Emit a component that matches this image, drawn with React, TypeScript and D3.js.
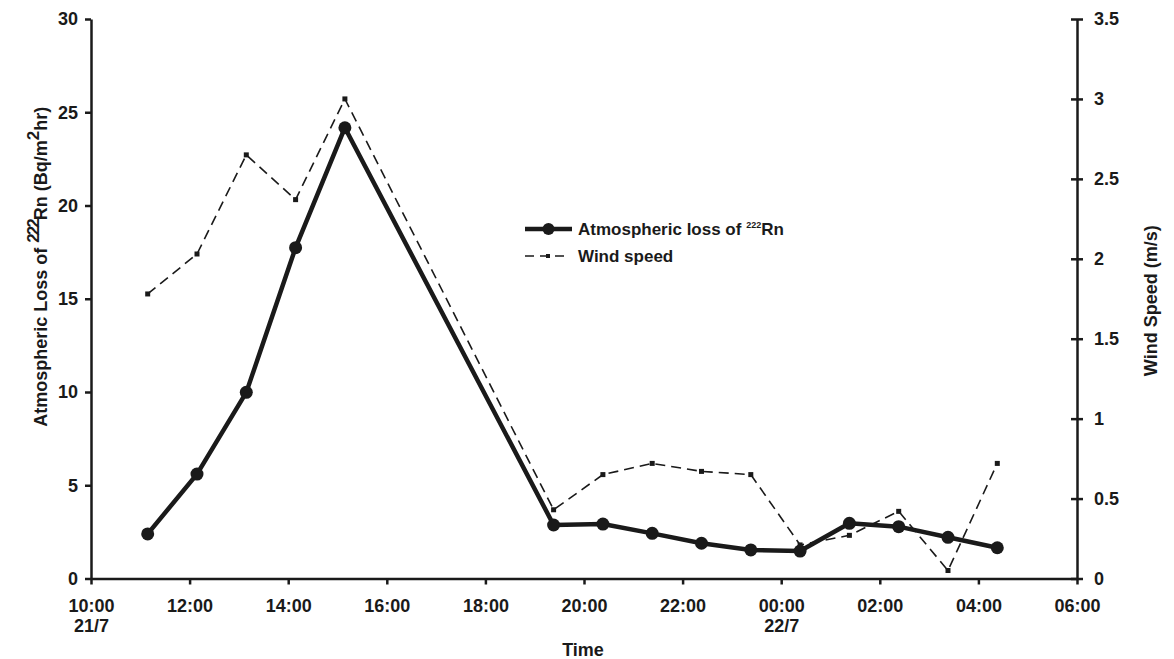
import * as React from 'react';
import * as d3 from 'd3';

const WIDTH = 1174;
const HEIGHT = 659;
const MARGIN = { top: 19, right: 97, bottom: 80.5, left: 91 };

// sampling times (local), 21/7 -> 22/7
const times = [
  '2000-07-21T11:09', '2000-07-21T12:09', '2000-07-21T13:09', '2000-07-21T14:09',
  '2000-07-21T15:09', '2000-07-21T19:23', '2000-07-21T20:23', '2000-07-21T21:23',
  '2000-07-21T22:23', '2000-07-21T23:23', '2000-07-22T00:23', '2000-07-22T01:23',
  '2000-07-22T02:23', '2000-07-22T03:23', '2000-07-22T04:23',
];
// atmospheric loss of 222Rn (Bq/m2 hr)
const radon = [2.39, 5.6, 9.98, 17.74, 24.17, 2.87, 2.92, 2.42, 1.89, 1.53, 1.47, 2.96, 2.78, 2.21, 1.65];
// wind speed (m/s)
const wind = [1.78, 2.03, 2.65, 2.37, 3.0, 0.43, 0.65, 0.72, 0.67, 0.65, 0.21, 0.27, 0.42, 0.05, 0.72];

const xStart = '2000-07-21T10:00';
const xEnd = '2000-07-22T06:00';
const leftTicks = [0, 5, 10, 15, 20, 25, 30];
const rightTicks = [0, 0.5, 1, 1.5, 2, 2.5, 3, 3.5];
const dateLabels = { '10:00': '21/7', '00:00': '22/7' };

const FONT = 'Arial, "Liberation Sans", Helvetica, sans-serif';
const INK = '#1a1a1a';

export default function App() {
  const ref = React.useRef(null);

  React.useEffect(() => {
    const svg = d3.select(ref.current);
    svg.selectAll('*').remove();

    const w = WIDTH - MARGIN.left - MARGIN.right;
    const h = HEIGHT - MARGIN.top - MARGIN.bottom;

    const x = d3.scaleTime().domain([new Date(xStart), new Date(xEnd)]).range([0, w]);
    const yL = d3.scaleLinear().domain([0, 30]).range([h, 0]);
    const yR = d3.scaleLinear().domain([0, 3.5]).range([h, 0]);

    const data = times.map((t, i) => ({ t: new Date(t), rn: radon[i], ws: wind[i] }));

    const g = svg.append('g').attr('transform', `translate(${MARGIN.left},${MARGIN.top})`);

    // x axis
    const fmt = d3.timeFormat('%H:%M');
    const xAxis = g
      .append('g')
      .attr('transform', `translate(0,${h})`)
      .call(
        d3.axisBottom(x)
          .ticks(d3.timeHour.every(2))
          .tickSize(6)
          .tickSizeOuter(0)
          .tickFormat(d => fmt(d)),
      );
    xAxis.select('.domain').attr('stroke', INK).attr('stroke-width', 2.5);
    xAxis.selectAll('.tick line').attr('stroke', INK).attr('stroke-width', 2.5);
    xAxis
      .selectAll('.tick text')
      .attr('font-family', FONT)
      .attr('font-weight', 'bold')
      .attr('font-size', 18)
      .attr('fill', INK)
      .attr('y', 0)
      .attr('dy', 0)
      .each(function (d) {
        const s = fmt(d);
        const t = d3.select(this);
        t.text(null);
        t.append('tspan').attr('x', 0).attr('y', 33).text(s);
        if (dateLabels[s]) t.append('tspan').attr('x', 0).attr('y', 53).text(dateLabels[s]);
      });

    // left axis
    const yAxisL = g.append('g').call(d3.axisLeft(yL).tickValues(leftTicks).tickSize(6).tickSizeOuter(0).tickPadding(7));
    yAxisL.select('.domain').attr('stroke', INK).attr('stroke-width', 2.5);
    yAxisL.selectAll('.tick line').attr('stroke', INK).attr('stroke-width', 2.5);
    yAxisL
      .selectAll('.tick text')
      .attr('font-family', FONT)
      .attr('font-weight', 'bold')
      .attr('font-size', 18)
      .attr('fill', INK);

    // right axis, ticks crossing the line
    const yAxisR = g
      .append('g')
      .attr('transform', `translate(${w},0)`)
      .call(d3.axisRight(yR).tickValues(rightTicks).tickSize(6).tickSizeOuter(0).tickPadding(11).tickFormat(d3.format('~g')));
    yAxisR.select('.domain').attr('stroke', INK).attr('stroke-width', 2.5);
    yAxisR.selectAll('.tick line').attr('stroke', INK).attr('stroke-width', 2.5).attr('x1', -6);
    yAxisR
      .selectAll('.tick text')
      .attr('font-family', FONT)
      .attr('font-weight', 'bold')
      .attr('font-size', 18)
      .attr('fill', INK);

    // wind speed (dashed)
    const windLine = d3.line().x(d => x(d.t)).y(d => yR(d.ws));
    g.append('path')
      .datum(data)
      .attr('fill', 'none')
      .attr('stroke', INK)
      .attr('stroke-width', 1.6)
      .attr('stroke-dasharray', '10,6')
      .attr('d', windLine);
    g.selectAll('.wsPt')
      .data(data)
      .enter()
      .append('rect')
      .attr('x', d => x(d.t) - 2.5)
      .attr('y', d => yR(d.ws) - 2.5)
      .attr('width', 5)
      .attr('height', 5)
      .attr('fill', INK);

    // radon loss (solid, thick)
    const rnLine = d3.line().x(d => x(d.t)).y(d => yL(d.rn));
    g.append('path')
      .datum(data)
      .attr('fill', 'none')
      .attr('stroke', INK)
      .attr('stroke-width', 4.5)
      .attr('stroke-linejoin', 'round')
      .attr('d', rnLine);
    g.selectAll('.rnPt')
      .data(data)
      .enter()
      .append('circle')
      .attr('cx', d => x(d.t))
      .attr('cy', d => yL(d.rn))
      .attr('r', 6.5)
      .attr('fill', INK);

    // axis titles
    const lt = svg
      .append('text')
      .attr('transform', `translate(47,${MARGIN.top + h / 2 - 32}) rotate(-90)`)
      .attr('text-anchor', 'middle')
      .attr('font-family', FONT)
      .attr('font-weight', 'bold')
      .attr('font-size', 18)
      .attr('fill', INK);
    lt.append('tspan').text('Atmospheric Loss of ');
    lt.append('tspan').attr('font-size', 17).attr('dy', -8).attr('letter-spacing', -2).text('222');
    lt.append('tspan').attr('dy', 8).text('Rn (Bq/m');
    lt.append('tspan').attr('font-size', 17).attr('dy', -8).text('2');
    lt.append('tspan').attr('dy', 8).text('hr)');

    svg
      .append('text')
      .attr('transform', `translate(1157,${MARGIN.top + h / 2 + 2}) rotate(-90)`)
      .attr('text-anchor', 'middle')
      .attr('font-family', FONT)
      .attr('font-weight', 'bold')
      .attr('font-size', 18)
      .attr('fill', INK)
      .text('Wind Speed (m/s)');

    svg
      .append('text')
      .attr('x', 583)
      .attr('y', 656)
      .attr('text-anchor', 'middle')
      .attr('font-family', FONT)
      .attr('font-weight', 'bold')
      .attr('font-size', 18)
      .attr('fill', INK)
      .text('Time');

    // legend
    const lg = svg.append('g').attr('transform', 'translate(525,229)');
    lg.append('line').attr('x1', 0).attr('x2', 47).attr('y1', 0).attr('y2', 0).attr('stroke', INK).attr('stroke-width', 4.5);
    lg.append('circle').attr('cx', 23.5).attr('cy', 0).attr('r', 6).attr('fill', INK);
    const l1 = lg
      .append('text')
      .attr('x', 53)
      .attr('y', 6)
      .attr('font-family', FONT)
      .attr('font-weight', 'bold')
      .attr('font-size', 17)
      .attr('fill', INK);
    l1.append('tspan').text('Atmospheric loss of ');
    l1.append('tspan').attr('font-size', 9).attr('dy', -7).text('222');
    l1.append('tspan').attr('dy', 7).text('Rn');

    lg.append('line')
      .attr('x1', 0)
      .attr('x2', 45)
      .attr('y1', 27)
      .attr('y2', 27)
      .attr('stroke', INK)
      .attr('stroke-width', 1.6)
      .attr('stroke-dasharray', '9,6');
    lg.append('rect').attr('x', 21).attr('y', 25).attr('width', 4).attr('height', 4).attr('fill', INK);
    lg.append('text')
      .attr('x', 53)
      .attr('y', 33)
      .attr('font-family', FONT)
      .attr('font-weight', 'bold')
      .attr('font-size', 17)
      .attr('fill', INK)
      .text('Wind speed');
  }, []);

  return (
    <div style={{ position: 'absolute', left: 0, top: 0 }}>
      <svg ref={ref} width={WIDTH} height={HEIGHT} style={{ display: 'block', background: '#fff' }} />
    </div>
  );
}
